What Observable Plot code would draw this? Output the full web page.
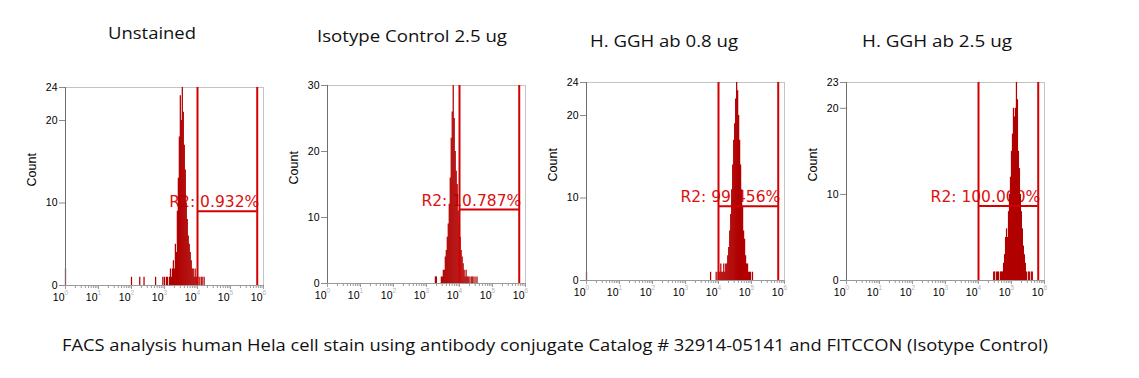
<!DOCTYPE html>
<html><head><meta charset="utf-8">
<script src="https://cdn.jsdelivr.net/npm/d3@7"></script>
<script src="https://cdn.jsdelivr.net/npm/@observablehq/plot@0.6"></script>
<style>
html,body{margin:0;padding:0;background:#fff;}
#page{position:relative;width:1139px;height:378px;overflow:hidden;background:#fff;}
#overlay{position:absolute;left:0;top:0;}
</style></head><body>
<div id="page"></div>
<script>
// ---------- data ----------
const titles = ["Unstained", "Isotype Control 2.5 ug", "H. GGH ab 0.8 ug", "H. GGH ab 2.5 ug"];
const caption = "FACS analysis human Hela cell stain using antibody conjugate Catalog # 32914-05141 and FITCCON (Isotype Control)";
const yMax = [24, 30, 24, 23];
const yTicks = [[0, 10, 20, 24], [0, 10, 20, 30], [0, 10, 20, 24], [0, 10, 20, 23]];
const decades = [0, 1, 2, 3, 4, 5, 6];
const minorMultipliers = [2, 3, 4, 5, 6, 7, 8, 9];
const gateLowLog = 4.0;
const gateHighLog = 5.81;
const gateCount = [9.0, 11.2, 9.0, 8.65];
const gateLabels = ["R2: 0.932%", "R2: 10.787%", "R2: 99.456%", "R2: 100.000%"];
// histogram channels (log10 of fluorescence), step in decades
const histStep = 0.03;
const histStart = [3.00, 3.27, 4.04, 4.46];
const hist1Counts = [1,0,1,1,0,1,2,1,2,3,2,5,4,9,13,18,23,20,24,21,17,14,10,8,6,5,4,3,2,2,1,2,1,1,0,1,0,1,1,0,1];
const hist2Counts = [1,1,0,0,0,0,1,1,2,2,4,5,7,9,12,16,22,26,30,25,20,17,15,11,9,7,5,4,3,2,1,2,1,1,1,0,1,1,1,0,1,0,1];
const hist3Counts = [1,2,1,1,2,1,2,2,3,4,6,8,11,14,17,19,22,24,23,20,17,14,11,9,6,5,3,2,2,1,1,1,0,1];
const hist4Counts = [1,1,0,1,1,1,0,1,1,1,2,3,5,6,5,8,10,12,15,17,20,19,20,23,21,15,13,10,8,6,4,3,2,1,0,1,1,0,1,1];
// isolated events outside the main peak
const out1Log = [0, 2.0, 2.25, 2.38, 2.73, 2.95];
const out1Count = [2, 1, 1, 1, 1, 1];
const out2Log = [];
const out2Count = [];
const out3Log = [0, 3.76, 3.93, 3.99];
const out3Count = [1, 1, 1, 1];
const out4Log = [];
const out4Count = [];

// ---------- layout ----------
const page = document.getElementById("page");
const panelLeft = [65, 326.7, 585.7, 845.7];
const panelTop = [86.7, 85, 81.7, 81.7];
const frameW = 198, frameH = 198;
const mL = 45, mT = 12, mR = 16, mB = 30;
const labelWidth = [96, 105, 106, 116];

const histCounts = [hist1Counts, hist2Counts, hist3Counts, hist4Counts];
const outLogs = [out1Log, out2Log, out3Log, out4Log];
const outCounts = [out1Count, out2Count, out3Count, out4Count];
const majorTicks = decades.map(d => 10 ** d);
const minorTicks = decades.slice(0, -1).flatMap(d => minorMultipliers.map(m => m * 10 ** d));

const histColor = "#b00000";
const gateColor = "#d20000";

for (let i = 0; i < 4; i++) {
  const bins = histCounts[i].map((c, k) => ({x: 10 ** (histStart[i] + k * histStep), c}));
  const outs = outLogs[i].map((l, k) => ({x: 10 ** l, c: outCounts[i][k]}));
  const chart = Plot.plot({
    width: frameW + mL + mR,
    height: frameH + mT + mB,
    marginLeft: mL, marginTop: mT, marginRight: mR, marginBottom: mB,
    style: {background: "transparent", fontFamily: "Liberation Sans, Arial, sans-serif", overflow: "visible"},
    x: {type: "log", domain: [1, 1e6]},
    y: {domain: [0, yMax[i]]},
    marks: [
      Plot.frame({stroke: "#c4c4c4"}),
      Plot.text([gateLabels[i]], {
        x: 10 ** gateHighLog, y: gateCount[i], text: d => d,
        textAnchor: "end", lineAnchor: "bottom", dy: -4, dx: 2,
        fill: "#dd1010", fontSize: 15.5, fontFamily: "DejaVu Sans", ariaLabel: "gate-label"
      }),
      Plot.ruleX(bins, {x: "x", y1: 0, y2: "c", stroke: histColor, strokeWidth: 1.25}),
      Plot.ruleX(outs, {x: "x", y1: 0, y2: "c", stroke: histColor, strokeWidth: 1.25}),
      Plot.ruleX([10 ** gateLowLog, 10 ** gateHighLog], {stroke: gateColor, strokeWidth: 2}),
      Plot.ruleY([gateCount[i]], {x1: 10 ** gateLowLog, x2: 10 ** gateHighLog, stroke: gateColor, strokeWidth: 2}),
      Plot.ruleX([1], {stroke: "#6e6e6e"}),
      Plot.ruleY([0], {stroke: "#9a9a9a"}),
      Plot.axisY(yTicks[i], {tickSize: 6, tickFormat: () => "", color: "#8a8a8a", label: null}),
      Plot.axisY(yTicks[i], {tickSize: 0, tickPadding: 8, fontSize: 10.5, color: "#000", label: null}),
      Plot.axisX(minorTicks, {tickSize: 3, tickFormat: () => "", color: "#9a9a9a", label: null}),
      Plot.axisX(majorTicks, {tickSize: 4, tickFormat: () => "", color: "#9a9a9a", label: null}),
      Plot.text(majorTicks, {x: d => d, frameAnchor: "bottom", text: () => "10", textAnchor: "end",
        lineAnchor: "bottom", dy: 15, dx: -1, fontSize: 10.5, fill: "#000"}),
      Plot.text(decades, {x: d => 10 ** d, frameAnchor: "bottom", text: d => String(d), textAnchor: "start",
        lineAnchor: "bottom", dy: 9, dx: -1, fontSize: 6.5, fill: "#b4b4b4"}),
      Plot.text(["Count"], {frameAnchor: "left", dx: -34, rotate: -90, text: d => d, fontSize: 12.5, fill: "#000"})
    ]
  });
  chart.querySelectorAll('g[aria-label="gate-label"] text').forEach(t => {
    t.setAttribute("textLength", labelWidth[i]);
    t.setAttribute("lengthAdjust", "spacingAndGlyphs");
  });
  chart.style.position = "absolute";
  chart.style.left = (panelLeft[i] - mL) + "px";
  chart.style.top = (panelTop[i] - mT) + "px";
  page.appendChild(chart);
}

// ---------- titles & caption ----------
const titleX = [108, 317, 590, 862];
const titleW = [88, 190, 148, 150];
const titleBase = [39, 42, 47, 47];
const ov = d3.select(page).append("svg").attr("id", "overlay").attr("width", 1139).attr("height", 378);
titles.forEach((t, i) => {
  ov.append("text").attr("x", titleX[i]).attr("y", titleBase[i])
    .attr("textLength", titleW[i]).attr("lengthAdjust", "spacingAndGlyphs")
    .style("font-family", "Open Sans").style("font-size", "15.5px").attr("fill", "#111").text(t);
});
ov.append("text").attr("x", 62).attr("y", 351)
  .attr("textLength", 986).attr("lengthAdjust", "spacingAndGlyphs")
  .style("font-family", "Open Sans").style("font-size", "16px").attr("fill", "#111").text(caption);
</script>
</body></html>
